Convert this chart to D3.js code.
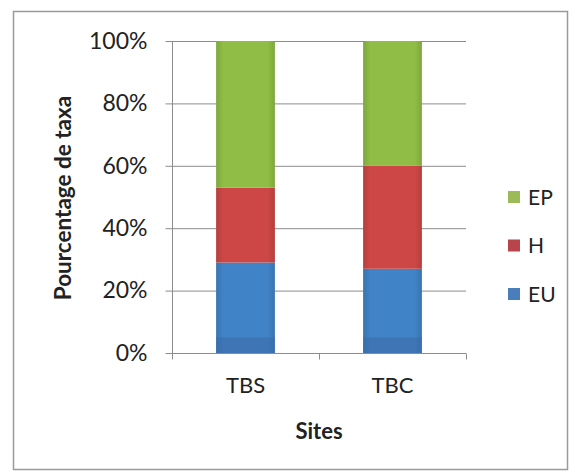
<!DOCTYPE html>
<html>
<head>
<meta charset="utf-8">
<script src="https://cdn.jsdelivr.net/npm/d3@7"></script>
<style>
  html, body { margin: 0; padding: 0; background: #fff; }
  svg { display: block; }
  text { font-family: Lato, "Open Sans", sans-serif; fill: #222; }
</style>
</head>
<body>
<div id="chart"></div>
<script>
// Share of taxa per site, split by group (percent of total)
const sites = ["TBS", "TBC"];
const groups = ["EU", "H", "EP"];
const euValues = [29, 27];
const hValues = [24, 33];
const epValues = [47, 40];
const yTicks = [0, 20, 40, 60, 80, 100];
const legendOrder = ["EP", "H", "EU"];

const width = 575, height = 473;
const colors = { EU: "#4083c6", H: "#cd4746", EP: "#8fbd45" };
const legendColors = { EU: "#4a7ebb", H: "#b8444c", EP: "#9bbb59" };

const svg = d3.select("#chart").append("svg")
  .attr("width", width).attr("height", height);

// outer chart frame
svg.append("rect")
  .attr("x", 13.5).attr("y", 11.5)
  .attr("width", 554).attr("height", 458)
  .attr("fill", "#fff").attr("stroke", "#9a9a9a").attr("stroke-width", 1.5);

const plot = { left: 172, right: 466, top: 41, bottom: 353 };

const x = d3.scaleBand().domain(sites)
  .range([plot.left, plot.right]).paddingInner(0.6).paddingOuter(0.3);
const y = d3.scaleLinear().domain([0, 100]).range([plot.bottom, plot.top]);

// horizontal gridlines
svg.append("g").selectAll("line").data(yTicks.filter(t => t > 0)).join("line")
  .attr("x1", plot.left).attr("x2", plot.right)
  .attr("y1", d => y(d) + 0.5).attr("y2", d => y(d) + 0.5)
  .attr("stroke", "#8c8c8c").attr("stroke-width", 1);

// stacked data
const rows = sites.map((s, i) => ({ site: s, EU: euValues[i], H: hValues[i], EP: epValues[i] }));
const stacked = d3.stack().keys(groups)(rows);

// bar shading: slightly darker edges
const defs = svg.append("defs");
groups.forEach(g => {
  const grad = defs.append("linearGradient").attr("id", "grad-" + g)
    .attr("x1", 0).attr("x2", 1).attr("y1", 0).attr("y2", 0);
  const c = d3.color(colors[g]);
  grad.append("stop").attr("offset", "0%").attr("stop-color", c.darker(0.35));
  grad.append("stop").attr("offset", "12%").attr("stop-color", c);
  grad.append("stop").attr("offset", "88%").attr("stop-color", c);
  grad.append("stop").attr("offset", "100%").attr("stop-color", c.darker(0.35));
});

svg.append("g").selectAll("g").data(stacked).join("g")
  .attr("fill", d => "url(#grad-" + d.key + ")")
  .selectAll("rect").data(d => d).join("rect")
  .attr("x", d => x(d.data.site))
  .attr("width", x.bandwidth())
  .attr("y", d => y(d[1]))
  .attr("height", d => y(d[0]) - y(d[1]));

// darker base strip of each bar
svg.append("g").selectAll("rect").data(sites).join("rect")
  .attr("x", d => x(d)).attr("width", x.bandwidth())
  .attr("y", y(5)).attr("height", y(0) - y(5))
  .attr("fill", "#3a6aa8").attr("opacity", 0.55);

// y axis
const yAxis = d3.axisLeft(y).tickValues(yTicks).tickFormat(d => d + "%")
  .tickSize(7).tickPadding(18);
const gy = svg.append("g").attr("transform", `translate(${plot.left + 0.5},0)`).call(yAxis);
gy.select(".domain").attr("stroke", "#8c8c8c").attr("d", `M-0,${plot.top}V${plot.bottom + 6}`);
gy.selectAll(".tick line").attr("stroke", "#8c8c8c");
gy.selectAll(".tick text").attr("font-size", 23).attr("fill", "#222")
  .style("font-family", "Lato, sans-serif");

// x axis
const xAxis = d3.axisBottom(x).tickSize(0).tickPadding(24);
const gx = svg.append("g").attr("transform", `translate(0,${plot.bottom + 0.5})`).call(xAxis);
gx.select(".domain").attr("stroke", "#8c8c8c").attr("d", `M${plot.left},0H${plot.right}`);
gx.selectAll(".tick text").attr("font-size", 22).attr("fill", "#222")
  .style("font-family", "Lato, sans-serif");
// category separator ticks
const sepX = [plot.left, (x("TBS") + x.bandwidth() + x("TBC")) / 2, plot.right];
gx.append("g").selectAll("line").data(sepX).join("line")
  .attr("x1", d => Math.round(d) + 0.5).attr("x2", d => Math.round(d) + 0.5)
  .attr("y1", 0).attr("y2", 6).attr("stroke", "#8c8c8c");

// axis titles
svg.append("text")
  .attr("transform", `translate(71,${(plot.top + plot.bottom) / 2 + 1}) rotate(-90)`)
  .attr("text-anchor", "middle").attr("font-size", 22.5).attr("font-weight", "bold")
  .text("Pourcentage de taxa");
svg.append("text")
  .attr("x", 319).attr("y", 439)
  .attr("text-anchor", "middle").attr("font-size", 22).attr("font-weight", "bold")
  .text("Sites");

// legend
const legendY = d3.scalePoint().domain(legendOrder).range([197, 294]);
const lg = svg.append("g").selectAll("g").data(legendOrder).join("g")
  .attr("transform", d => `translate(508,${legendY(d)})`);
lg.append("rect").attr("x", 0).attr("y", -6).attr("width", 12).attr("height", 12)
  .attr("fill", d => legendColors[d]);
lg.append("text").attr("x", 20).attr("y", 0).attr("dy", "0.36em")
  .attr("font-size", 21).text(d => d);
</script>
</body>
</html>
